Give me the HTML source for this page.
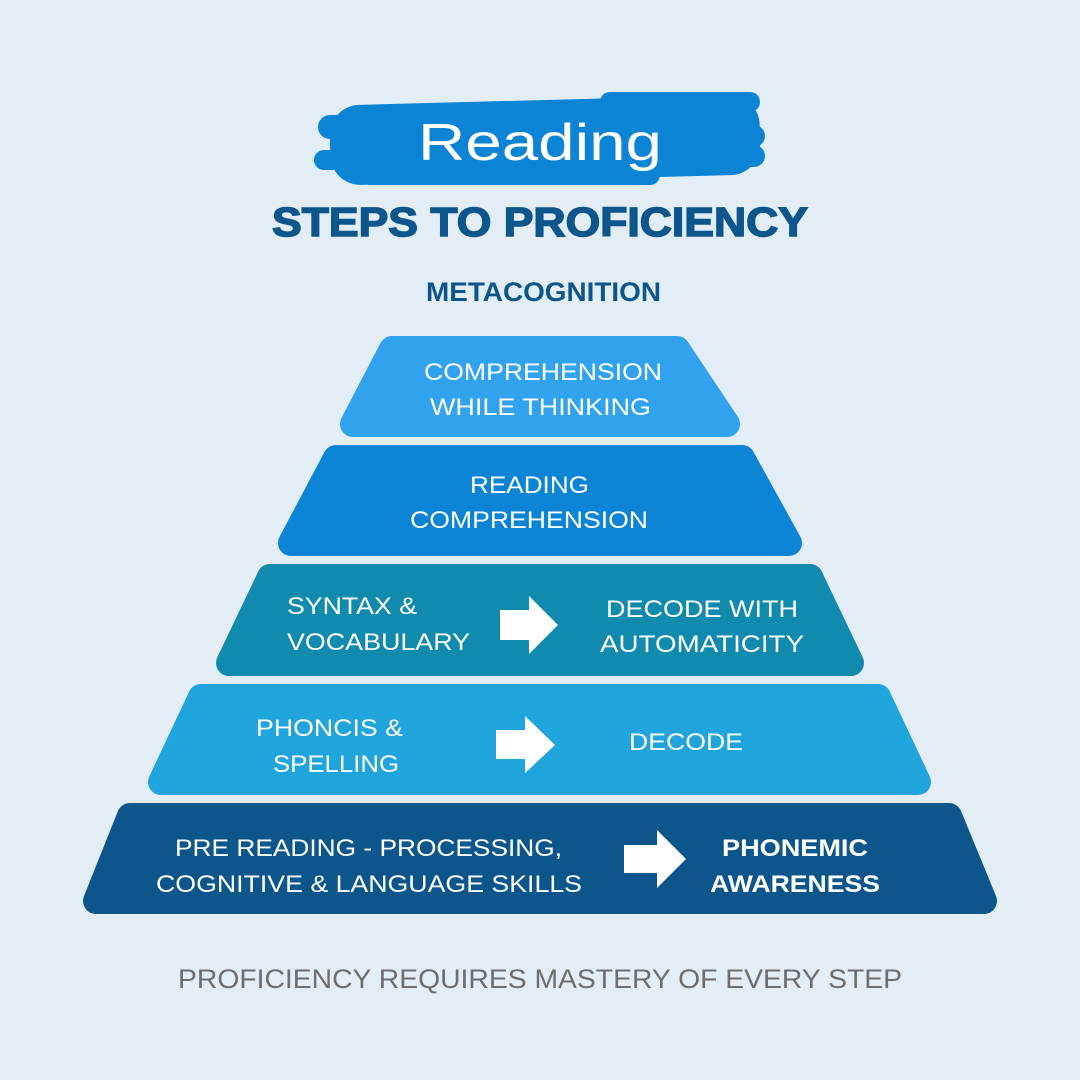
<!DOCTYPE html>
<html><head><meta charset="utf-8"><style>
html,body{margin:0;padding:0;background:#e2edf5;}
svg{display:block}
text{font-family:"Liberation Sans",sans-serif;}
.w{fill:#fff;font-size:24px;}
</style></head><body>
<svg width="1080" height="1080" viewBox="0 0 1080 1080" xmlns="http://www.w3.org/2000/svg">
<rect width="1080" height="1080" fill="#e2edf5"/>
<g fill="#0b84d6">
<rect x="330" y="100" width="430" height="80" rx="30" transform="rotate(-1.5 545 140)"/>
<rect x="318" y="115" width="200" height="24" rx="12"/>
<rect x="314" y="150" width="200" height="20" rx="10"/>
<rect x="330" y="133" width="120" height="20" rx="10"/>
<rect x="600" y="92" width="160" height="20" rx="10"/>
<rect x="640" y="125" width="125" height="22" rx="11"/>
<rect x="640" y="145" width="125" height="22" rx="11"/>
<rect x="360" y="165" width="300" height="20" rx="10"/>
</g>
<text x="418" y="160" fill="#fff" font-size="52" textLength="244" lengthAdjust="spacingAndGlyphs">Reading</text>
<text x="272" y="236" fill="#0d568c" font-size="41" font-weight="bold" stroke="#0d568c" stroke-width="1.5" textLength="536" lengthAdjust="spacingAndGlyphs">STEPS TO PROFICIENCY</text>
<text x="426" y="301" fill="#0d568c" font-size="27" font-weight="bold" textLength="235" lengthAdjust="spacingAndGlyphs">METACOGNITION</text>
<g stroke-linejoin="round" stroke-width="26">
<polygon points="392,349 677,349 727,424 353,424" fill="#30a2ee" stroke="#30a2ee"/>
<polygon points="336,458 742,458 789,543 291,543" fill="#0b84d6" stroke="#0b84d6"/>
<polygon points="270,577 810,577 851,663 229,663" fill="#108aad" stroke="#108aad"/>
<polygon points="201,697 878,697 918,782 161,782" fill="#20a4dc" stroke="#20a4dc"/>
<polygon points="130,816 949,816 984,901 96,901" fill="#0c568c" stroke="#0c568c"/>
</g>
<g fill="#fff">
<polygon points="500,610 529,610 529,596 558,625 529,654 529,640 500,640"/>
<polygon points="496,730 525,730 525,716 555,745 525,773 525,759 496,759"/>
<polygon points="624,845 657,845 657,830 686,859 657,888 657,873 624,873"/>
</g>
<text class="w" x="424" y="380" textLength="238" lengthAdjust="spacingAndGlyphs">COMPREHENSION</text>
<text class="w" x="430" y="415" textLength="221" lengthAdjust="spacingAndGlyphs">WHILE THINKING</text>
<text class="w" x="470" y="493" textLength="119" lengthAdjust="spacingAndGlyphs">READING</text>
<text class="w" x="410" y="528" textLength="238" lengthAdjust="spacingAndGlyphs">COMPREHENSION</text>
<text class="w" x="287" y="614" textLength="130" lengthAdjust="spacingAndGlyphs">SYNTAX &amp;</text>
<text class="w" x="287" y="650" textLength="183" lengthAdjust="spacingAndGlyphs">VOCABULARY</text>
<text class="w" x="606" y="617" textLength="192" lengthAdjust="spacingAndGlyphs">DECODE WITH</text>
<text class="w" x="600" y="652" textLength="204" lengthAdjust="spacingAndGlyphs">AUTOMATICITY</text>
<text class="w" x="256" y="736" textLength="147" lengthAdjust="spacingAndGlyphs">PHONCIS &amp;</text>
<text class="w" x="273" y="772" textLength="126" lengthAdjust="spacingAndGlyphs">SPELLING</text>
<text class="w" x="629" y="750" textLength="114" lengthAdjust="spacingAndGlyphs">DECODE</text>
<text class="w" x="175" y="856" textLength="387" lengthAdjust="spacingAndGlyphs">PRE READING - PROCESSING,</text>
<text class="w" x="156" y="892" textLength="426" lengthAdjust="spacingAndGlyphs">COGNITIVE &amp; LANGUAGE SKILLS</text>
<text class="w" x="722" y="856" font-weight="bold" textLength="146" lengthAdjust="spacingAndGlyphs">PHONEMIC</text>
<text class="w" x="710" y="892" font-weight="bold" textLength="170" lengthAdjust="spacingAndGlyphs">AWARENESS</text>
<text x="178" y="988" fill="#6d6d6d" font-size="27" textLength="724" lengthAdjust="spacingAndGlyphs">PROFICIENCY  REQUIRES MASTERY OF EVERY STEP</text>
</svg>
</body></html>
